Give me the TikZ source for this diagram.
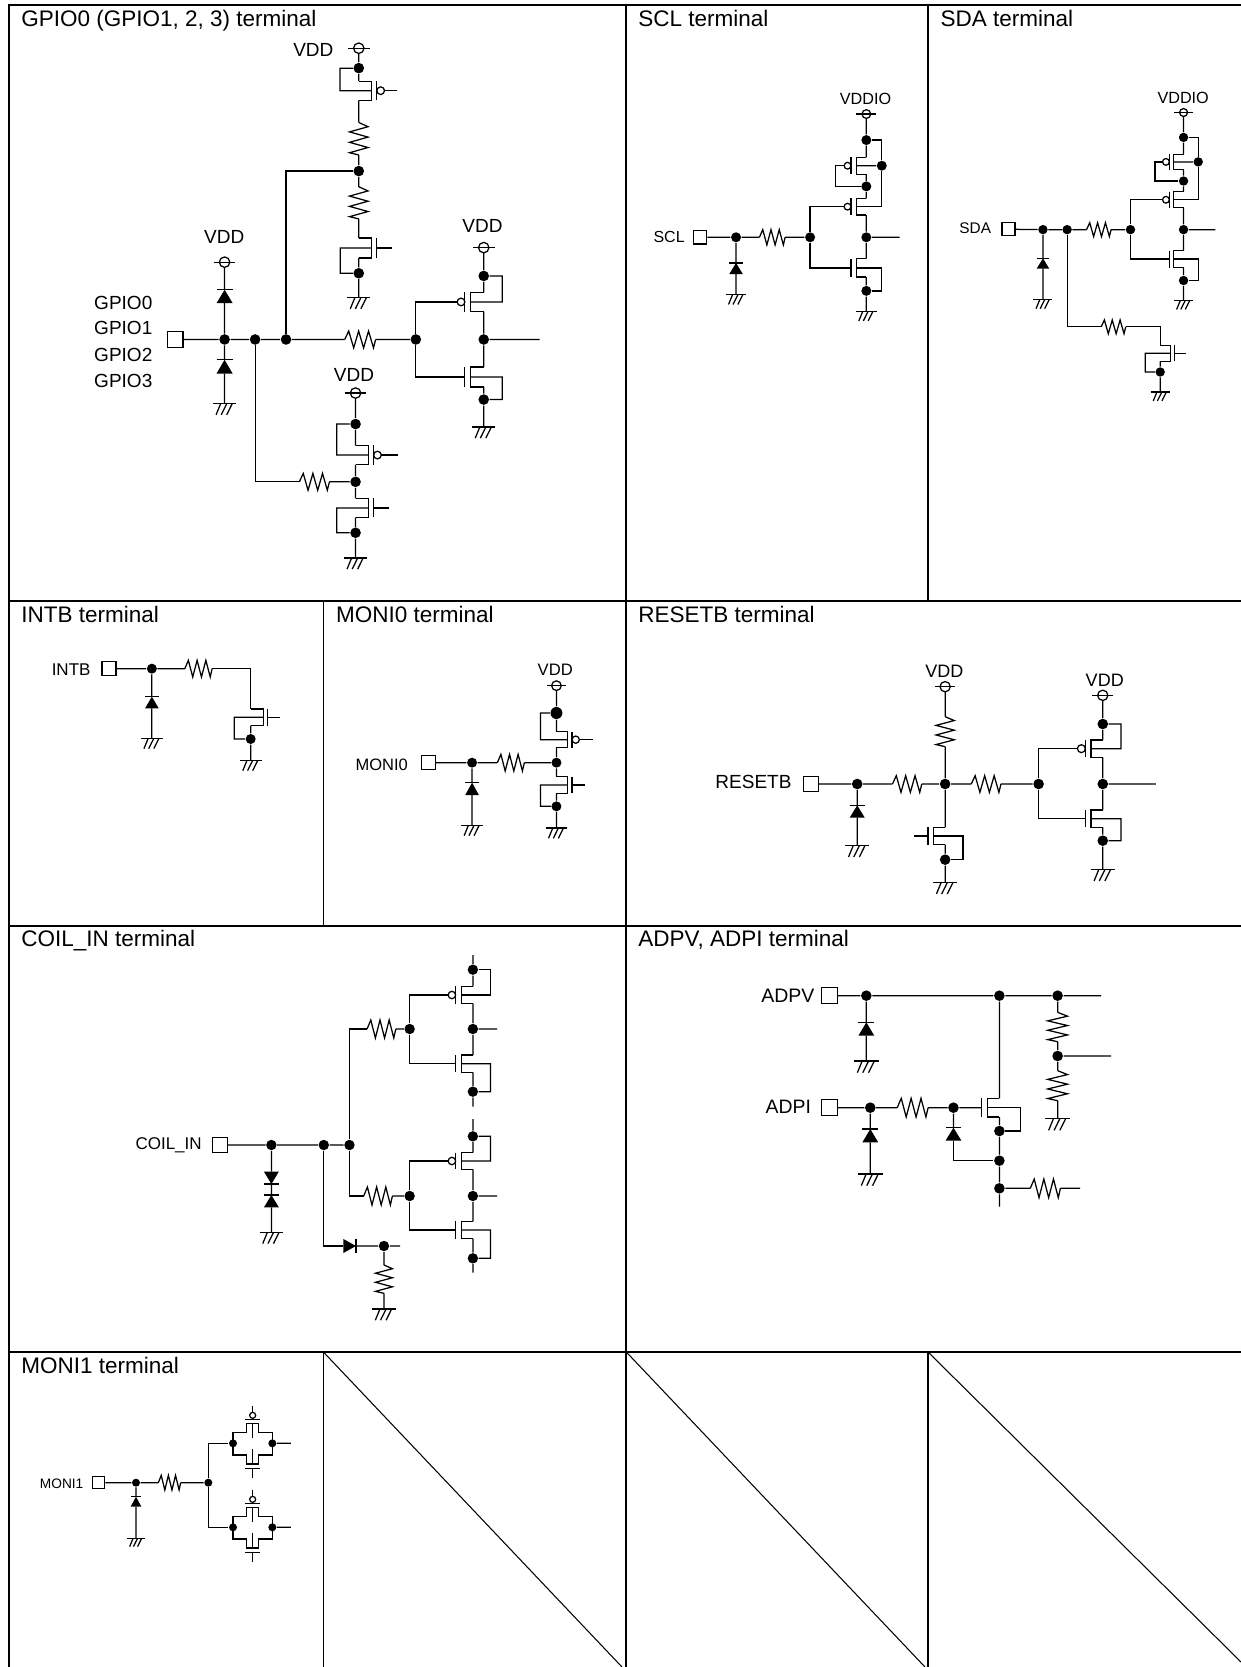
\documentclass[tikz,border=0pt]{standalone}
\usepackage{fontspec}
\setmainfont{Liberation Sans}
\tikzset{
  jn/.style={circle,fill=black,draw=none,inner sep=0pt,minimum size=\dsz},
  pad/.style={rectangle,draw=black,fill=white,inner sep=0pt},
  frameln/.style={line width=2pt,black},
  thinln/.style={line width=1.2pt,black}
}
\newcommand\dn[3]{\node[jn] (#1) at (#2,#3) {};}
\newcommand\lb[5]{\node[inner sep=0pt,font=\fontsize{#4}{#4}\selectfont] (#1) at (#2,#3) {#5};}
\newcommand\lbw[5]{\node[inner sep=0pt,anchor=west,font=\fontsize{#4}{#4}\selectfont] (#1) at (#2,#3) {#5};}
\newcommand\ttl[4]{\node[inner sep=0pt,anchor=base west,font=\fontsize{22.5}{24}\selectfont] (#1) at (#2,#3) {#4};}
% name,x,y,d,g,h
\newcommand\fet[6]{\begin{scope}[shift={(#2,#3)}]
  \pgfmathsetmacro\gx{#4+#5}
  \coordinate (#1T) at (0,-#6);\coordinate (#1B) at (0,#6);
  \coordinate (#1K) at (#4,0);\coordinate (#1G) at (\gx,0);
  \draw (0,-#6) -- (#4,-#6) -- (#4,#6) -- (0,#6);
  \draw (\gx,-#6) -- (\gx,#6);
  \end{scope}}
\newcommand\pfet[6]{\fet{#1}{#2}{#3}{#4}{#5}{#6}\begin{scope}[shift={(#2,#3)}]
  \pgfmathsetmacro\sg{#4>0?1:-1}
  \pgfmathsetmacro\cx{#4+#5+\sg*\brd}
  \pgfmathsetmacro\ex{#4+#5+2*\sg*\brd}
  \draw (\cx,0) circle[x radius=\brd,y radius=\brd*\asp];
  \coordinate (#1G) at (\ex,0);
  \end{scope}}
\newcommand\resh[5]{\begin{scope}[shift={(#2,#3)},xscale=#4,yscale=#5]
  \coordinate (#1A) at (0,0);\coordinate (#1B) at (1,0);
  \draw[line join=miter] (0,0)--(.13,-1)--(.29,1)--(.45,-1)--(.61,1)--(.77,-1)--(.93,1)--(1,0);
  \end{scope}}
\newcommand\resv[5]{\begin{scope}[shift={(#2,#3)},xscale=#5,yscale=#4]
  \coordinate (#1A) at (0,0);\coordinate (#1B) at (0,1);
  \draw[line join=miter] (0,0)--(1,.13)--(-1,.29)--(1,.45)--(-1,.61)--(1,.77)--(-1,.93)--(0,1);
  \end{scope}}
\newcommand\gnd[4]{\begin{scope}[shift={(#2,#3)},xscale=#4,yscale=#4*\asp]
  \coordinate (#1) at (0,0);
  \draw (-1,0)--(1,0);
  \draw (-.34,0)--(-.73,.95) (.18,0)--(-.29,.95) (.65,0)--(.18,.95);
  \end{scope}}
\newcommand\vdd[5]{\begin{scope}[shift={(#2,#3)}]
  \coordinate (#1S) at (0,#5*\asp);
  \draw (-#4,0)--(#4,0);
  \draw (0,0) circle[x radius=#5,y radius=#5*\asp];
  \end{scope}}
% tip at x,y; base at offset len
\newcommand\diov[5]{\begin{scope}[shift={(#2,#3)}]
  \coordinate (#1K) at (0,0);\coordinate (#1A) at (0,#4);
  \fill (0,0)--(-#5,#4)--(#5,#4)--cycle;
  \draw (-#5,0)--(#5,0);
  \end{scope}}
\newcommand\dioh[5]{\begin{scope}[shift={(#2,#3)}]
  \coordinate (#1K) at (0,0);\coordinate (#1A) at (#4,0);
  \fill (0,0)--(#4,-#5)--(#4,#5)--cycle;
  \draw (0,-#5)--(0,#5);
  \end{scope}}
% transmission gate centred at x,y
\newcommand\tgate[3]{\begin{scope}[shift={(#2,#3)}]
  \dn{#1L}{-59}{0}\dn{#1R}{59}{0}
  \coordinate (#1U) at (0,-112);\coordinate (#1D) at (0,105);
  \draw (-59,0)--(-59,-32)--(-18,-32)--(-18,-60)--(17,-60)--(17,-32)--(59,-32)--(59,0);
  \draw (-59,0)--(-59,35)--(-18,35)--(-18,62)--(17,62)--(17,35)--(59,35)--(59,0);
  \draw (0,-60)--(0,-15) (0,18)--(0,62);
  \draw (-22,-72)--(22,-72) (-22,75)--(22,75);
  \draw (0,-84) circle[radius=9];
  \draw (#1U)--(0,-93) (0,75)--(#1D);
  \end{scope}}
\begin{document}
\begin{tikzpicture}[x=1pt,y=-1pt,line width=1.25pt,line cap=butt]
\useasboundingbox (0,0) rectangle (1241,1667);
\fill[white] (0,0) rectangle (1241,1667);
% ---------- table frame
\draw[frameln] (8.8,4.6)--(1241,4.6) (8.8,600.7)--(1241,600.7) (8.8,926)--(1241,926) (8.8,1352)--(1241,1352);
\draw[frameln] (8.8,3.6)--(8.8,1667) (626.3,3.6)--(626.3,1667);
\draw[thinln] (928,4.6)--(928,600.7) (323.4,600.7)--(323.4,926) (323.4,1352)--(323.4,1667) (928,1352)--(928,1667);
\draw[line width=1.05pt] (323.4,1352)--(622,1667) (626.3,1352)--(925,1667) (928,1352)--(1241,1662);
% ---------- titles
\ttl{t1}{20.7}{26.8}{GPIO0 (GPIO1, 2, 3) terminal}
\ttl{t2}{637.8}{26.8}{SCL terminal}
\ttl{t3}{940}{26.8}{SDA terminal}
\ttl{t4}{20.7}{622.7}{INTB terminal}
\ttl{t5}{335.6}{622.7}{MONI0 terminal}
\ttl{t6}{637.8}{622.7}{RESETB terminal}
\ttl{t7}{20.7}{946.8}{COIL\_IN terminal}
\ttl{t8}{637.8}{946.8}{ADPV, ADPI terminal}
\ttl{t9}{20.7}{1373.5}{MONI1 terminal}
% ---------- GPIO panel
\begin{scope}[xscale=1/2.489,yscale=1/2.613]
\def\asp{1.05}\def\brd{9.5}\def\dsz{10.6pt}
\lb{a01}{780}{130}{19}{VDD}\lb{a02}{558}{618}{19}{VDD}\lb{a03}{1201}{590}{19}{VDD}\lb{a04}{881}{980}{19}{VDD}
\lbw{a05}{233}{792}{19}{GPIO0}\lbw{a06}{233}{858}{19}{GPIO1}\lbw{a07}{233}{927}{19}{GPIO2}\lbw{a08}{233}{995}{19}{GPIO3}
\node[pad,minimum size=15.7pt] (ap) at (436,887) {};
% top branch
\vdd{av1}{893}{126}{27}{13}\dn{a1}{893}{178}
\pfet{aq1}{893}{237}{32}{13}{25}
\resv{ar1}{893}{320}{85}{23}\dn{a2}{893}{447}\resv{ar2}{893}{488}{84}{23}
\fet{aq2}{893}{648}{32}{13}{26}\dn{a3}{893}{714}\gnd{ag1}{893}{778}{29}
\draw (av1S)--(a1) (a1)--(aq1T) (aq1B)--(ar1A) (ar1B)--(a2) (a2)--(ar2A) (ar2B)--(aq2T) (aq2B)--(a3) (a3)--(ag1);
\draw (a1)--++(-47,0)|-(aq1K);\draw (aq1G)--++(31,0);
\draw (a3)--++(-46,0)|-(aq2K);\draw (aq2G)--++(37,0);
% bus
\dn{a4}{559}{887}\dn{a5}{635}{887}\dn{a6}{712}{887}\resh{ar3}{858}{887}{77}{22}\dn{a7}{1035}{887}
\draw (ap)--(a4) (a4)--(a5) (a5)--(a6) (a6)--(ar3A) (ar3B)--(a7);
\draw (a2)-|(a6);
% diodes
\vdd{av2}{559}{685}{27}{13}\diov{ad1}{559}{757}{35}{20}\diov{ad2}{559}{940}{36}{20}\gnd{ag2}{559}{1055}{29}
\draw (av2S)--(ad1K) (ad1A)--(a4) (a4)--(ad2K) (ad2A)--(ag2);
% output inverter
\vdd{av3}{1204}{647}{27}{13}\dn{a8}{1204}{721}\pfet{aq3}{1204}{789}{-32}{-15}{25}\dn{a9}{1204}{887}
\fet{aq4}{1204}{985}{-32}{-15}{26}\dn{a10}{1204}{1044}\gnd{ag3}{1204}{1116}{29}
\coordinate (ao) at (1343,887);
\draw (av3S)--(a8) (a8)--(aq3T) (aq3B)--(a9) (a9)--(aq4T) (aq4B)--(a10) (a10)--(ag3) (a9)--(ao);
\draw (a8)--++(46,0)|-(aq3K);\draw (a10)--++(46,0)|-(aq4K);
\draw (a7)|-(aq3G);\draw (a7)|-(aq4G);
% lower branch
\vdd{av4}{885}{1027}{27}{13}\dn{a11}{885}{1108}\pfet{aq5}{885}{1189}{32}{13}{25}\dn{a12}{885}{1259}
\fet{aq6}{885}{1327}{32}{13}{25}\dn{a13}{885}{1392}\gnd{ag4}{885}{1458}{29}
\resh{ar4}{745}{1259}{75}{22}
\draw (av4S)--(a11) (a11)--(aq5T) (aq5B)--(a12) (a12)--(aq6T) (aq6B)--(a13) (a13)--(ag4);
\draw (a11)--++(-47,0)|-(aq5K);\draw (a13)--++(-47,0)|-(aq6K);
\draw (aq5G)--++(41,0);\draw (aq6G)--++(37,0);
\draw (a5)|-(ar4A);\draw (ar4B)--(a12);
\end{scope}
% ---------- SCL panel
\begin{scope}[shift={(620,0)},xscale=1/2.525,yscale=1/2.613]
\def\asp{1.035}\def\brd{8.5}\def\dsz{10pt}
\lb{b01}{620}{258}{16.2}{VDDIO}\lb{b02}{124}{618}{16}{SCL}
\node[pad,minimum size=13.4pt] (bp) at (202,620) {};
\vdd{bv}{622}{298}{25}{11}\dn{b1}{622}{366}\pfet{bq1}{622}{433}{-25}{-14}{22}\dn{b2}{661}{433}\dn{b3}{622}{487}
\pfet{bq2}{622}{540}{-25}{-14}{22}\dn{b4}{622}{620}\fet{bq3}{622}{700}{-25}{-14}{24}\dn{b5}{622}{760}\gnd{bg1}{622}{813}{26}
\coordinate (bo) at (706,620);
\draw (bvS)--(b1) (b1)--(bq1T) (bq1B)--(b3) (b3)--(bq2T) (bq2B)--(b4) (b4)--(bq3T) (bq3B)--(b5) (b5)--(bg1) (b4)--(bo);
\draw (bq1K)--(b2);\draw (b1)-|(b2);\draw (b2)|-(bq2K);
\draw (bq1G)--++(-21,0)|-(b3);
\draw (bq3K)--++(64,0)|-(b5);
\dn{b6}{293}{620}\resh{br}{352}{620}{65}{20}\dn{b7}{480}{620}
\draw (bp)--(b6) (b6)--(brA) (brB)--(b7);
\draw (b7)|-(bq2G);\draw (b7)|-(bq3G);
\diov{bd}{293}{687}{29}{17}\gnd{bg2}{293}{770}{26}
\draw (b6)--(bdK) (bdA)--(bg2);
\end{scope}
% ---------- SDA panel
\begin{scope}[shift={(620,0)},xscale=1/2.525,yscale=1/2.613]
\def\asp{1.035}\def\brd{8.5}\def\dsz{9.4pt}
\lb{c01}{1422}{257}{16.2}{VDDIO}\lb{c02}{897}{597}{15.4}{SDA}
\node[pad,minimum size=13pt] (cp) at (981,599) {};
\vdd{cv}{1423}{294}{24}{10}\dn{c1}{1423}{359}\pfet{cq1}{1423}{423}{-25}{-11}{20}\dn{c2}{1460}{423}\dn{c3}{1423}{473}
\pfet{cq2}{1423}{522}{-25}{-11}{21}\dn{c4}{1423}{600}\fet{cq3}{1423}{677}{-25}{-11}{22}\dn{c5}{1423}{733}\gnd{cg1}{1423}{785}{24}
\coordinate (co) at (1503,600);
\draw (cvS)--(c1) (c1)--(cq1T) (cq1B)--(c3) (c3)--(cq2T) (cq2B)--(c4) (c4)--(cq3T) (cq3B)--(c5) (c5)--(cg1) (c4)--(co);
\draw (cq1K)--(c2);\draw (c1)-|(c2);\draw (c2)|-(cq2K);
\draw (cq1G)--++(-19,0)|-(c3);
\draw (cq3K)--++(62,0)|-(c5);
\dn{c6}{1068}{600}\dn{c7}{1129}{600}\resh{cr1}{1178}{600}{62}{18}\dn{c8}{1289}{600}
\draw (cp)--(c6) (c6)--(c7) (c7)--(cr1A) (cr1B)--(c8);
\draw (c8)|-(cq2G);\draw (c8)|-(cq3G);
\diov{cd}{1068}{675}{27}{16}\gnd{cg2}{1068}{783}{24}
\draw (c6)--(cdK) (cdA)--(cg2);
\resh{cr2}{1215}{854}{62}{18}\fet{cq4}{1364}{923}{26}{11}{21}\dn{c9}{1364}{972}\gnd{cg3}{1364}{1024}{24}
\draw (c7)|-(cr2A);\draw (cr2B)-|(cq4T);
\draw (cq4B)--(c9) (c9)--(cg3);\draw (c9)--++(-38,0)|-(cq4K);\draw (cq4G)--++(29,0);
\end{scope}
% ---------- INTB panel
\begin{scope}[shift={(0,595)},xscale=1/2.489,yscale=1/3]
\def\asp{1.205}\def\brd{9}\def\dsz{10pt}
\lb{d01}{177}{223}{17}{INTB}
\node[pad,minimum size=14pt] (dp) at (271,221) {};
\dn{d1}{378}{221}\resh{dr}{460}{221}{68}{25}
\fet{dq}{624}{367}{31}{10}{25}\dn{d2}{624}{432}\gnd{dg1}{624}{496}{27}
\diov{dd}{378}{305}{35}{17}\gnd{dg2}{378}{430}{27}
\draw (dp)--(d1) (d1)--(drA);\draw (drB)-|(dqT);
\draw (dqB)--(d2) (d2)--(dg1);\draw (d2)--++(-41,0)|-(dqK);\draw (dqG)--++(31,0);
\draw (d1)--(ddK) (ddA)--(dg2);
\end{scope}
% ---------- MONI0 panel
\begin{scope}[shift={(0,595)},xscale=1/2.489,yscale=1/3]
\def\asp{1.205}\def\brd{9}\def\dsz{10pt}
\lb{e01}{1382}{224}{16.6}{VDD}\lb{e02}{950}{508}{16.5}{MONI0}
\node[pad,minimum size=14pt] (ep) at (1066,503) {};
\vdd{ev}{1385}{272}{24}{12}{\def\dsz{12pt}\dn{e1}{1385}{354}}\pfet{eq1}{1385}{434}{27}{12}{24}\dn{e2}{1385}{503}
\fet{eq2}{1385}{570}{27}{12}{25}\dn{e3}{1385}{634}\gnd{eg1}{1385}{699}{27}
\dn{e4}{1175}{503}\resh{er}{1238}{503}{67}{25}
\diov{ed}{1175}{563}{37}{17}\gnd{eg2}{1175}{691}{27}
\draw (evS)--(e1) (e1)--(eq1T) (eq1B)--(e2) (e2)--(eq2T) (eq2B)--(e3) (e3)--(eg1);
\draw (e1)--++(-40,0)|-(eq1K);\draw (e3)--++(-40,0)|-(eq2K);
\draw (eq1G)--++(33,0);\draw (eq2G)--++(31,0);
\draw (ep)--(e4) (e4)--(erA) (erB)--(e2) (e4)--(edK) (edA)--(eg2);
\end{scope}
% ---------- RESETB panel
\begin{scope}[shift={(620,595)},xscale=1/2.525,yscale=1/3]
\def\asp{1.188}\def\brd{10}\def\dsz{10.6pt}
\lb{f01}{819}{229}{18}{VDD}\lb{f02}{1224}{256}{18}{VDD}\lb{f03}{337}{562}{19}{RESETB}
\node[pad,minimum size=14.8pt] (fp) at (482,567) {};
\dn{f1}{599}{567}\resh{fr1}{688}{567}{74}{25}\dn{f2}{821}{567}\resh{fr2}{887}{567}{75}{25}\dn{f3}{1057}{567}
\draw (fp)--(f1) (f1)--(fr1A) (fr1B)--(f2) (f2)--(fr2A) (fr2B)--(f3);
\vdd{fv1}{821}{275}{26}{13}\resv{fr3}{821}{365}{90}{23}
\draw (fv1S)--(fr3A) (fr3B)--(f2);
\diov{fd}{599}{631}{37}{19}\gnd{fg1}{599}{752}{30}
\draw (f1)--(fdK) (fdA)--(fg1);
\fet{fq1}{821}{723}{-29}{-14}{26}\dn{f4}{821}{794}\gnd{fg2}{821}{863}{30}
\draw (f2)--(fq1T) (fq1B)--(f4) (f4)--(fg2);
\draw (fq1K)--++(74,0)|-(f4);\draw (fq1G)--++(-36,0);
\vdd{fv2}{1219}{301}{26}{13}\dn{f5}{1219}{387}\pfet{fq2}{1219}{461}{-30}{-14}{26}\dn{f6}{1219}{567}
\fet{fq3}{1219}{671}{-30}{-14}{26}\dn{f7}{1219}{737}\gnd{fg3}{1219}{824}{30}
\coordinate (fo) at (1353,567);
\draw (fv2S)--(f5) (f5)--(fq2T) (fq2B)--(f6) (f6)--(fq3T) (fq3B)--(f7) (f7)--(fg3) (f6)--(fo);
\draw (f5)--++(46,0)|-(fq2K);\draw (f7)--++(46,0)|-(fq3K);
\draw (f3)|-(fq2G);\draw (f3)|-(fq3G);
\end{scope}
% ---------- COIL_IN panel
\begin{scope}[shift={(100,930)},xscale=1/2.958,yscale=1/3]
\def\asp{1.014}\def\brd{11}\def\dsz{10.4pt}
\lb{g01}{203}{646}{17}{COIL\_IN}
\node[pad,minimum size=15.2pt] (gp) at (355,645) {};
\dn{g1}{507}{645}\dn{g2}{662}{645}\dn{g3}{738}{645}
\draw (gp)--(g1) (g1)--(g2) (g2)--(g3);
\diov{gd1}{507}{762}{-37}{22}\diov{gd2}{507}{795}{37}{22}\gnd{gg1}{507}{907}{35}
\draw (g1)--(gd1A) (gd1K)--(gd2K) (gd2A)--(gg1);
\resh{gr1}{790}{297}{85}{27}\dn{g4}{916}{297}\resh{gr2}{780}{798}{85}{27}\dn{g5}{916}{798}
\draw (g3)|-(gr1A);\draw (gr1B)--(g4);\draw (g3)|-(gr2A);\draw (gr2B)--(g5);
% upper inverter
\coordinate (gt1) at (1103,75);\coordinate (gb1) at (1103,530);\coordinate (go1) at (1175,297);
\dn{g6}{1103}{119}\pfet{gq1}{1103}{195}{-33}{-18}{26}\dn{g7}{1103}{297}\fet{gq2}{1103}{401}{-33}{-18}{26}\dn{g8}{1103}{485}
\draw (gt1)--(g6) (g6)--(gq1T) (gq1B)--(g7) (g7)--(gq2T) (gq2B)--(g8) (g8)--(gb1) (g7)--(go1);
\draw (g6)--++(52,0)|-(gq1K);\draw (g8)--++(52,0)|-(gq2K);
\draw (g4)|-(gq1G);\draw (g4)|-(gq2G);
% lower inverter
\coordinate (gt2) at (1103,567);\coordinate (gb2) at (1103,1028);\coordinate (go2) at (1175,798);
\dn{g9}{1103}{619}\pfet{gq3}{1103}{693}{-33}{-18}{25}\dn{g10}{1103}{798}\fet{gq4}{1103}{900}{-33}{-18}{26}\dn{g11}{1103}{985}
\draw (gt2)--(g9) (g9)--(gq3T) (gq3B)--(g10) (g10)--(gq4T) (gq4B)--(g11) (g11)--(gb2) (g10)--(go2);
\draw (g9)--++(52,0)|-(gq3K);\draw (g11)--++(52,0)|-(gq4K);
\draw (g5)|-(gq3G);\draw (g5)|-(gq4G);
% lower diode branch
\dioh{gd3}{757}{948}{-37}{21}\dn{g12}{840}{948}\coordinate (go3) at (888,948);
\resv{gr3}{840}{1005}{85}{25}\gnd{gg2}{840}{1137}{35}
\draw (g2)|-(gd3A);\draw (gd3K)--(g12) (g12)--(go3) (g12)--(gr3A) (gr3B)--(gg2);
\end{scope}
% ---------- ADPV, ADPI panel
\begin{scope}[shift={(620,930)},xscale=1/2.525,yscale=1/3]
\def\asp{1.188}\def\brd{10}\def\dsz{10.6pt}
\lb{h01}{424}{197}{19.5}{ADPV}\lb{h02}{425}{531}{19.4}{ADPI}
\node[pad,minimum size=15.8pt] (hp1) at (529,197) {};
\node[pad,minimum size=15.8pt] (hp2) at (529,533) {};
\dn{h1}{622}{197}\dn{h2}{958}{197}\dn{h3}{1105}{197}\coordinate (ho1) at (1215,197);
\draw (hp1)--(h1) (h1)--(h2) (h2)--(h3) (h3)--(ho1);
\diov{hd1}{622}{277}{40}{20}\gnd{hg1}{622}{393}{31}
\draw (h1)--(hd1K) (hd1A)--(hg1);
\resv{hr1}{1105}{247}{88}{25}\dn{h4}{1105}{378}\coordinate (ho2) at (1240,378);\resv{hr2}{1105}{422}{90}{25}\gnd{hg2}{1105}{566}{31}
\draw (h3)--(hr1A) (hr1B)--(h4) (h4)--(ho2) (h4)--(hr2A) (hr2B)--(hg2);
\dn{h5}{632}{533}\resh{hr3}{700}{533}{78}{28}\dn{h6}{842}{533}
\fet{hq}{958}{533}{-30}{-16}{28}\dn{h7}{958}{603}\dn{h8}{958}{692}\dn{h9}{958}{775}\coordinate (ho3) at (958,830);
\draw (hp2)--(h5) (h5)--(hr3A) (hr3B)--(h6) (h6)--(hqG);
\draw (h2)--(hqT) (hqB)--(h7) (h7)--(h8) (h8)--(h9) (h9)--(ho3);
\draw (hqK)--++(84,0)|-(h7);
\diov{hd2}{842}{593}{39}{20}\draw (h6)--(hd2K);\draw (hd2A)|-(h8);
\diov{hd3}{632}{597}{40}{20}\gnd{hg3}{632}{732}{31}
\draw (h5)--(hd3K) (hd3A)--(hg3);
\resh{hr4}{1036}{775}{76}{28}\coordinate (ho4) at (1162,775);
\draw (h9)--(hr4A) (hr4B)--(ho4);
\end{scope}
% ---------- MONI1 panel
\begin{scope}[shift={(0,1340)},xscale=1/3,yscale=1/3]
\def\asp{1}\def\brd{9}\def\dsz{8pt}
\lb{i01}{185}{430}{13.7}{MONI1}
\node[pad,minimum size=12pt] (ip) at (296,428) {};
\dn{i1}{408}{428}\resh{ir}{475}{428}{67}{22}\dn{i2}{625}{428}
\draw (ip)--(i1) (i1)--(irA) (irB)--(i2);
\diov{id}{408}{470}{30}{16}\gnd{ig}{408}{595}{26}
\draw (i1)--(idK) (idA)--(ig);
\tgate{it1}{758}{310}\tgate{it2}{758}{562}
\coordinate (io1) at (873,310);\coordinate (io2) at (873,562);
\draw (i2)|-(it1L);\draw (i2)|-(it2L);\draw (it1R)--(io1) (it2R)--(io2);
\end{scope}
\end{tikzpicture}
\end{document}
